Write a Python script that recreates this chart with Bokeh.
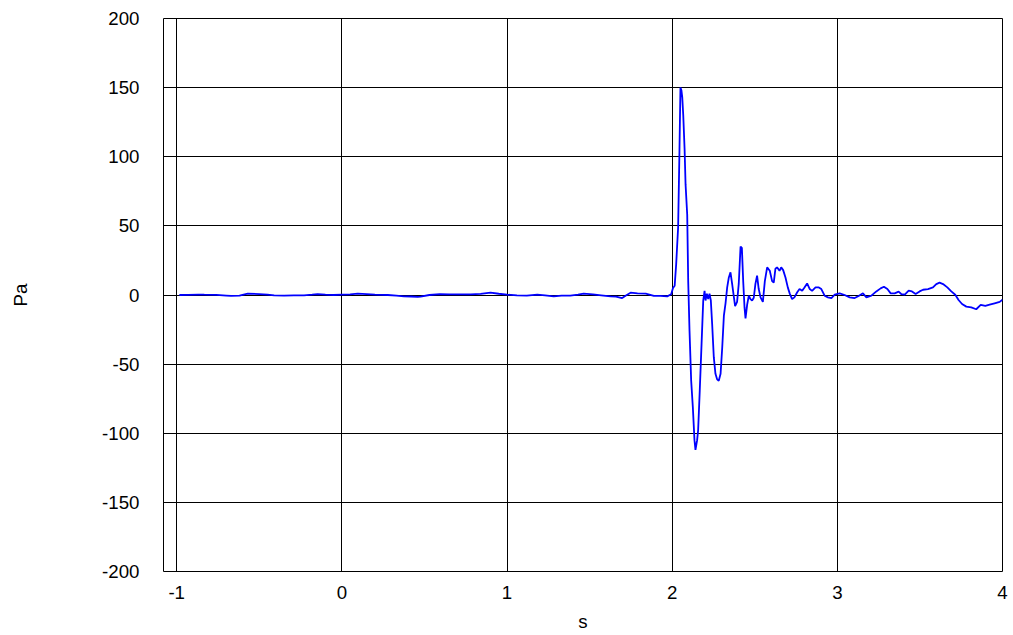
from bokeh.plotting import figure
from bokeh.models import FixedTicker, CustomJSTickFormatter
from bokeh.embed import file_html
from bokeh.resources import INLINE

# time (s) and pressure (Pa)
t_base = [-0.984, -0.93, -0.87, -0.833, -0.76, -0.70, -0.671, -0.62, -0.57, -0.50,
          -0.45, -0.41, -0.35, -0.29, -0.229, -0.18, -0.147, -0.10, -0.05, 0.0,
          0.05, 0.096, 0.15, 0.20, 0.278, 0.33, 0.376, 0.42, 0.459, 0.476,
          0.53, 0.593, 0.65, 0.70, 0.78, 0.84, 0.90, 0.95, 1.0, 1.06,
          1.12, 1.183, 1.23, 1.283, 1.33, 1.383, 1.43, 1.464, 1.52, 1.57,
          1.627, 1.66, 1.697, 1.72, 1.748, 1.79, 1.84, 1.889, 1.93, 1.970, 1.994]
p_base = [0, 0.1, 0.3, 0.2, 0.1, -0.4, -0.7, -0.5, 1.0, 0.7,
          0.3, -0.2, -0.4, -0.3, -0.2, 0.3, 0.7, 0.2, 0, 0.3,
          0.5, 1.0, 0.6, 0.2, 0, -0.5, -1.0, -1.1, -1.4, -1.2,
          0, 0.7, 0.5, 0.4, 0.5, 0.8, 1.7, 0.9, 0.3, -0.2,
          -0.4, 0.2, -0.3, -1.0, -0.5, -0.4, 0.2, 1.0, 0.4, -0.2,
          -1.0, -1.2, -2.2, -0.3, 1.7, 1.2, 1.0, -0.7, -0.6, -1.0, 0.5]

t_event = [2.005, 2.015, 2.024, 2.036, 2.044, 2.050, 2.056, 2.061, 2.067, 2.075,
           2.081, 2.091, 2.097, 2.105, 2.115, 2.125, 2.135, 2.141, 2.151, 2.157,
           2.167, 2.178, 2.188, 2.196, 2.202, 2.210, 2.218, 2.226, 2.234, 2.242,
           2.252, 2.262, 2.272, 2.282, 2.293, 2.303, 2.313, 2.323, 2.333, 2.343,
           2.353, 2.363, 2.373, 2.381, 2.393, 2.403, 2.414, 2.422, 2.430, 2.438,
           2.444, 2.454, 2.464, 2.474, 2.484, 2.494, 2.504, 2.514, 2.524, 2.535,
           2.549, 2.561, 2.575, 2.591, 2.605, 2.615, 2.625, 2.635, 2.650, 2.660,
           2.672, 2.686, 2.700, 2.712, 2.726, 2.740, 2.757, 2.771, 2.787, 2.801,
           2.817, 2.833, 2.847, 2.868, 2.888, 2.903, 2.923, 2.943, 2.964, 2.984,
           3.014, 3.044, 3.075, 3.105, 3.129, 3.155, 3.176, 3.206, 3.236, 3.262,
           3.282, 3.303, 3.323, 3.347, 3.371, 3.387, 3.408, 3.432, 3.452, 3.474,
           3.498, 3.519, 3.549, 3.579, 3.599, 3.619, 3.640, 3.666, 3.690, 3.714,
           3.734, 3.755, 3.781, 3.811, 3.841, 3.868, 3.896, 3.922, 3.952, 3.983, 4.0]
p_event = [5, 6.7, 22, 49, 104, 150, 148, 143, 130, 106,
           80, 58, 10, -26, -62, -81, -105, -112, -105, -98,
           -69, -35, -4, 3, -4, 1, -3, 1, -4, -21,
           -45, -57, -61, -62, -57, -38, -15, -6, 5.5, 12.7,
           16.4, 8, -1, -8, -5, 8, 35, 34, 10, -9,
           -17, -7, -0.5, -3, -4, -2, 8, 14, 4.3, -1.7,
           -5, 10, 20, 17.5, 10, 9, 19, 20, 17.5, 20,
           18, 12.7, 5.5, 1, -3, -1.7, 2, 4.3, 3, 5.5,
           8.4, 4.3, 3, 5.5, 5.5, 4.3, -0.5, -1.7, -2.2, 0.2,
           1.2, 0, -1.7, -2.2, -0.7, 1.2, -1.7, -0.5, 2.6, 4.8,
           6, 4.3, 1.2, 1.2, 2.4, 0.7, 0.2, 3.1, 2.6, 0.7,
           2.6, 3.8, 4.3, 5.5, 7.9, 8.9, 7.9, 5.5, 2.6, 0.2,
           -3.6, -6.5, -8.4, -8.9, -10.3, -7.2, -7.9, -7, -6, -5, -3.4]

x_ticks = [-1, 0, 1, 2, 3, 4]
y_ticks = [-200, -150, -100, -50, 0, 50, 100, 150, 200]
x_title = "s"
y_title = "Pa"

FONT = "Liberation Sans"
FS = "18.7px"

p = figure(width=1013, height=635, x_range=(-1.08, 4), y_range=(-200, 200),
           output_backend="svg", toolbar_location=None,
           min_border_left=163, min_border_right=11, min_border_top=18,
           min_border_bottom=64)
p.background_fill_color = "white"
p.border_fill_color = "white"
p.outline_line_color = "black"
p.outline_line_width = 1

p.line(t_base + t_event, p_base + p_event, line_color="#0000FF", line_width=1.8)

fmt = CustomJSTickFormatter(code="return String(tick);")
for ax in (p.xaxis[0], p.yaxis[0]):
    ax.axis_line_color = None
    ax.major_tick_line_color = None
    ax.minor_tick_line_color = None
    ax.major_tick_out = 0
    ax.major_tick_in = 0
    ax.major_label_text_font = FONT
    ax.major_label_text_font_size = FS
    ax.major_label_text_color = "black"
    ax.axis_label_text_font = FONT
    ax.axis_label_text_font_size = FS
    ax.axis_label_text_font_style = "normal"
    ax.axis_label_text_color = "black"
    ax.formatter = fmt

p.xaxis.ticker = FixedTicker(ticks=x_ticks)
p.yaxis.ticker = FixedTicker(ticks=y_ticks)
p.xaxis.axis_label = x_title
p.yaxis.axis_label = y_title
p.xaxis.major_label_standoff = 14
p.xaxis.axis_label_standoff = 9
p.yaxis.major_label_standoff = 24
p.yaxis.axis_label_standoff = 68

p.xgrid.ticker = FixedTicker(ticks=x_ticks)
p.ygrid.ticker = FixedTicker(ticks=y_ticks)
p.grid.grid_line_color = "black"
p.grid.grid_line_width = 1
p.grid.grid_line_alpha = 1.0

open("out.html", "w").write(file_html(p, INLINE))
